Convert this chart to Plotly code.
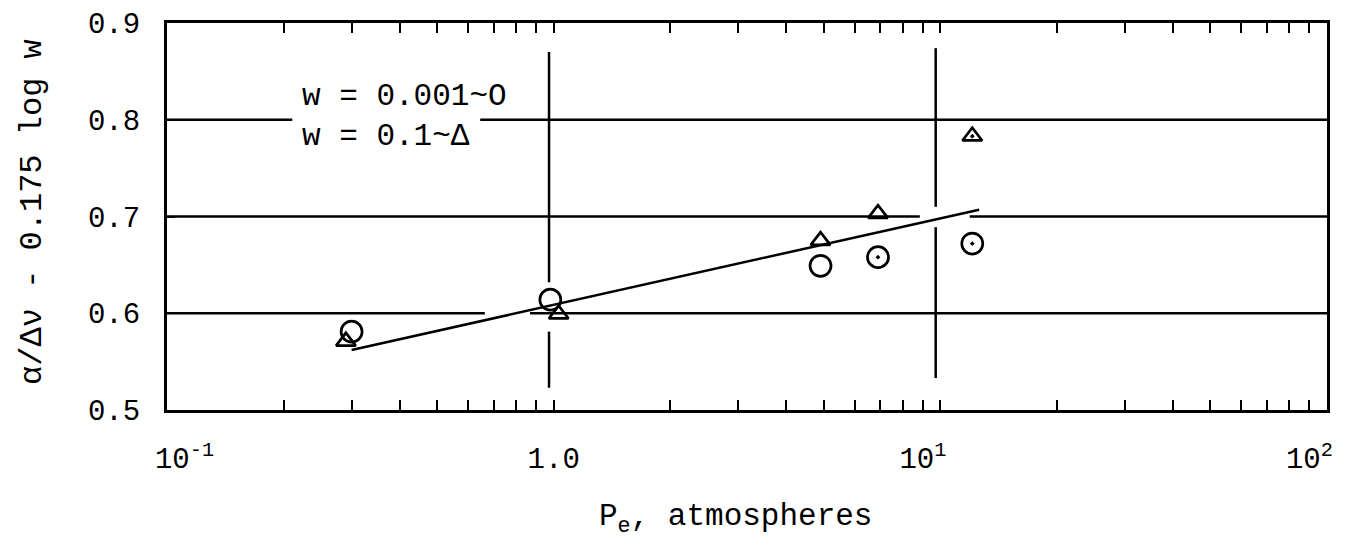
import math
import plotly.graph_objects as go

# Pressure (atm) and reduced half-width values for the two absorber amounts
p_circle = [0.30, 0.98, 4.9, 6.9, 12.1]          # w = 0.001
v_circle = [0.581, 0.614, 0.649, 0.658, 0.672]
p_triangle = [0.29, 1.03, 4.9, 6.9, 12.1]        # w = 0.1
v_triangle = [0.571, 0.599, 0.675, 0.703, 0.783]

# Straight-line fit drawn through the points
p_fit = [0.30, 12.6]
v_fit = [0.562, 0.707]

# Axis ticks (non-breaking spaces nudge the typed labels off-centre)
NB = "\u00a0"
decades = [0.1, 1.0, 10.0, 100.0]
decade_labels = [
    NB * 2 + "10<sup>-1</sup>",
    "1.0",
    "10<sup>1</sup>" + NB * 2,
    "10<sup>2</sup>" + NB * 2,
]
y_ticks = [0.5, 0.6, 0.7, 0.8, 0.9]
y_labels = ["0.5", "0.6", "0.7", "0.8", "0.9"]

FONT = "Liberation Mono, Courier New, monospace"
X_MIN_LOG, X_MAX_LOG = -1.0, 2.0
X_RANGE = [X_MIN_LOG - 0.0004, X_MAX_LOG + 0.0004]


def xpaper(p):
    """Paper coordinate of a pressure value on the log axis."""
    return (math.log10(p) - X_MIN_LOG) / (X_MAX_LOG - X_MIN_LOG)


# Tick marks at every 1..9 step of each decade (unlabelled axis)
x_tick_marks = [round(k * d, 6) for d in decades[:-1] for k in range(1, 10)]
x_tick_marks.append(decades[-1])

fig = go.Figure()

# The fit line lives on the labelled overlay axis (same scale as the main one)
fig.add_trace(go.Scatter(
    x=p_fit, y=v_fit, mode="lines", xaxis="x2",
    line=dict(color="black", width=2.5),
    showlegend=False, hoverinfo="skip",
))
fig.add_trace(go.Scatter(
    x=p_circle, y=v_circle, mode="markers",
    marker=dict(symbol=["circle-open", "circle-open", "circle-open",
                        "circle-open-dot", "circle-open-dot"],
                size=21, color="black", line=dict(width=2.7)),
    name="w = 0.001", showlegend=False,
))
fig.add_trace(go.Scatter(
    x=p_triangle, y=v_triangle, mode="markers",
    marker=dict(symbol=["triangle-up-open", "triangle-up-open", "triangle-up-open",
                        "triangle-up-open", "triangle-up-open-dot"],
                size=17, color="black", line=dict(width=2.7)),
    name="w = 0.1", showlegend=False,
))

# Hand-ruled grid: horizontal rules (paper x extents) with small breaks
h_rules = {
    0.8: [(0.0, 0.108), (0.27, 1.0)],
    0.7: [(0.0, 0.649), (0.692, 1.0)],
    0.6: [(0.0, 0.274), (0.313, 1.0)],
}
# Vertical rules at 1 and 10 atm (data y extents)
v_rules = {
    1.0: [(0.870, 0.632), (0.581, 0.523)],
    10.0: [(0.874, 0.710), (0.689, 0.533)],
}
shapes = []
for yv, segs in h_rules.items():
    for x0, x1 in segs:
        shapes.append(dict(type="line", xref="paper", yref="y",
                           x0=x0, x1=x1, y0=yv, y1=yv,
                           line=dict(color="black", width=2.5)))
for pv, segs in v_rules.items():
    for y0, y1 in segs:
        shapes.append(dict(type="line", xref="paper", yref="y",
                           x0=xpaper(pv) - 0.004, x1=xpaper(pv) - 0.004,
                           y0=y0, y1=y1,
                           line=dict(color="black", width=2.5)))

annotations = [
    dict(text="w = 0.001~O<br>w = 0.1~Δ", xref="paper", yref="paper",
         x=0.1147, y=0.86, xanchor="left", yanchor="top", align="left",
         showarrow=False, font=dict(family=FONT, size=31, color="black")),
    dict(text="P<sub>e</sub>, atmospheres",
         xref="paper", yref="paper",
         x=0.49, y=-0.225, xanchor="center", yanchor="top",
         showarrow=False, font=dict(family=FONT, size=31, color="black")),
    dict(text="α/Δν - 0.175 log w", xref="paper", yref="paper",
         x=-0.1155, y=0.512, xanchor="center", yanchor="middle",
         textangle=-90, showarrow=False,
         font=dict(family=FONT, size=32, color="black")),
]

fig.update_layout(
    width=1345, height=547, autosize=False,
    margin=dict(l=167, r=18, t=23, b=137, autoexpand=False),
    paper_bgcolor="white", plot_bgcolor="white",
    font=dict(family=FONT, color="black"),
    shapes=shapes, annotations=annotations,
    showlegend=False,
    xaxis=dict(
        type="log", range=X_RANGE,
        tickmode="array", tickvals=x_tick_marks, showticklabels=False,
        ticks="inside", ticklen=10, tickwidth=2, tickcolor="black",
        showline=True, linecolor="black", linewidth=3, mirror="ticks",
        showgrid=False, zeroline=False, automargin=False,
    ),
    xaxis2=dict(
        type="log", range=X_RANGE, overlaying="x", side="bottom", anchor="y",
        tickmode="array", tickvals=decades, ticktext=decade_labels,
        ticks="", showline=False, showgrid=False, zeroline=False,
        automargin=False,
        tickfont=dict(family=FONT, size=29, color="black"),
        ticklabelstandoff=28, ticklabeloverflow="allow",
    ),
    yaxis=dict(
        range=[0.5, 0.9],
        tickmode="array", tickvals=y_ticks, ticktext=y_labels,
        ticks="inside", ticklen=8, tickwidth=2, tickcolor="black",
        showline=True, linecolor="black", linewidth=3, mirror=True,
        showgrid=False, zeroline=False, automargin=False,
        tickfont=dict(family=FONT, size=29, color="black"),
        ticklabelstandoff=18,
    ),
)

fig.write_html("out.html")
